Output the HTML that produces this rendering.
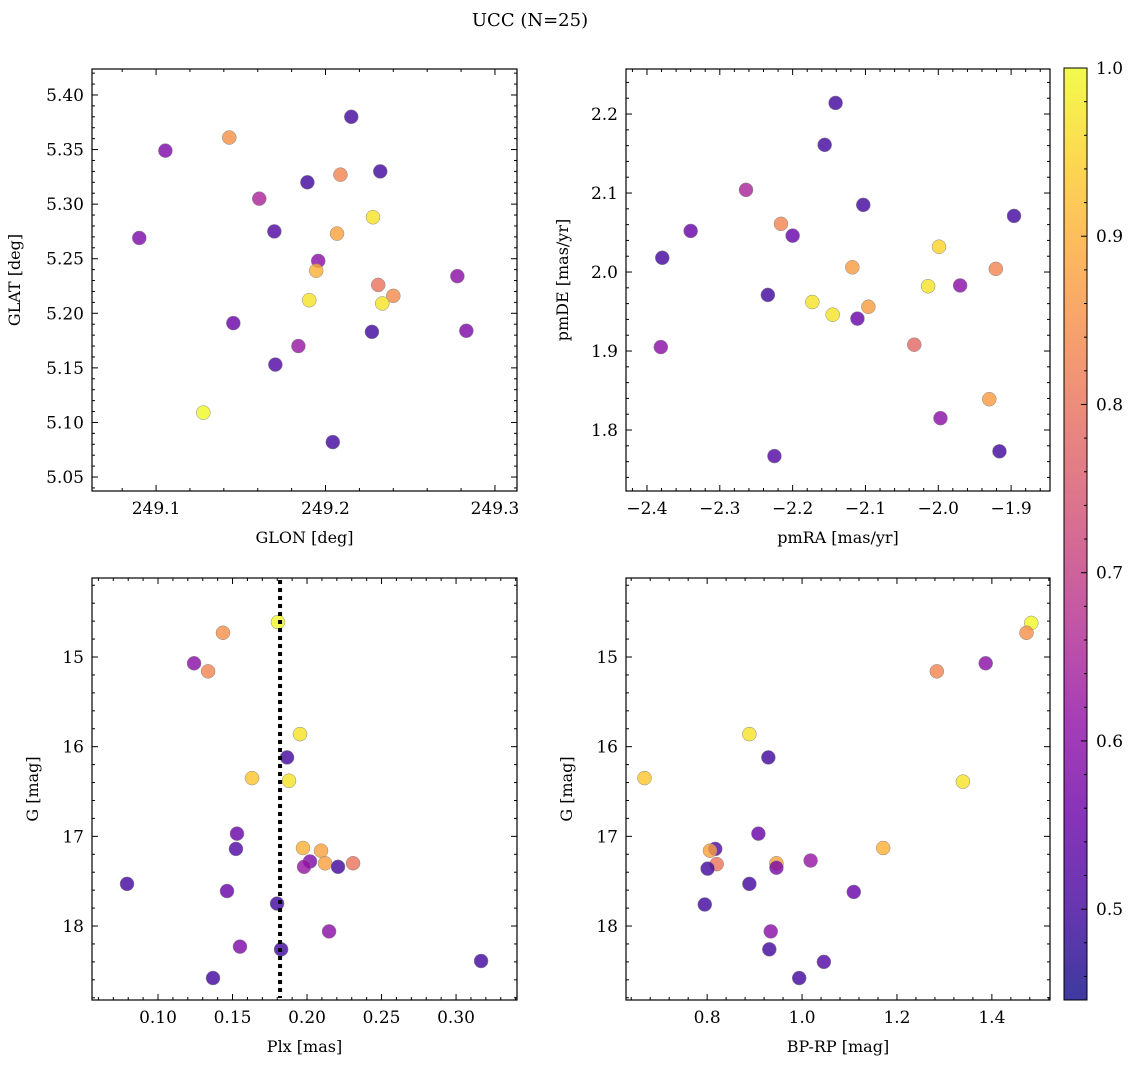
<!DOCTYPE html>
<html><head><meta charset="utf-8">
<style>
body{margin:0;background:#fff;}
svg{display:block;font-family:"DejaVu Serif","Liberation Serif",serif;}
</style></head>
<body>
<svg id="fig" width="1136" height="1068" viewBox="0 0 1136 1068">
<text x="530" y="26" text-anchor="middle" font-size="18">UCC (N=25)</text>
</svg>
<script>
// ---- data ----
const p1Glon=[249.1055,249.1432,249.2152,249.0901,249.1609,249.1893,249.2088,249.2323,249.1698,249.2280,249.2068,249.1957,249.1945,249.2778,249.2311,249.2400,249.1904,249.2335,249.1456,249.2831,249.2274,249.1840,249.1704,249.1279,249.2043];
const p1Glat=[5.349,5.361,5.380,5.269,5.305,5.320,5.327,5.330,5.275,5.288,5.273,5.248,5.239,5.234,5.226,5.216,5.212,5.209,5.191,5.184,5.183,5.170,5.153,5.109,5.082];
const p1C=[0.58,0.85,0.50,0.58,0.65,0.50,0.83,0.50,0.52,0.97,0.88,0.60,0.90,0.60,0.80,0.84,0.97,0.97,0.55,0.58,0.50,0.62,0.52,1.00,0.50];

const p2Pmra=[-2.141,-2.156,-2.264,-2.103,-1.896,-2.216,-2.340,-2.200,-2.379,-1.999,-2.118,-1.921,-2.234,-2.014,-1.970,-2.173,-2.096,-2.145,-2.111,-2.381,-2.033,-1.930,-1.997,-2.225,-1.916];
const p2Pmde=[2.214,2.161,2.104,2.085,2.071,2.061,2.052,2.046,2.018,2.032,2.006,2.004,1.971,1.982,1.983,1.962,1.956,1.946,1.941,1.905,1.908,1.839,1.815,1.767,1.773];
const p2C=[0.50,0.50,0.65,0.50,0.50,0.83,0.55,0.55,0.50,0.95,0.87,0.83,0.50,0.97,0.60,0.97,0.87,0.97,0.55,0.60,0.78,0.87,0.60,0.52,0.50];

const p3Plx=[0.1805,0.1436,0.1242,0.1336,0.1953,0.1866,0.1631,0.1879,0.1530,0.1523,0.1973,0.2094,0.2020,0.1980,0.2121,0.2208,0.2309,0.0792,0.1463,0.1799,0.2148,0.1550,0.1826,0.1369,0.3168];
const p3G=[14.61,14.73,15.07,15.16,15.86,16.12,16.35,16.38,16.97,17.14,17.13,17.16,17.28,17.34,17.30,17.34,17.30,17.53,17.61,17.75,18.06,18.23,18.26,18.58,18.39];
const p3C=[1.00,0.85,0.60,0.83,0.97,0.50,0.93,0.97,0.55,0.52,0.90,0.88,0.58,0.62,0.88,0.50,0.80,0.50,0.55,0.50,0.60,0.58,0.50,0.50,0.50];

const p4Bprp=[1.483,1.473,1.387,1.284,0.889,0.929,0.668,1.339,0.908,0.817,0.806,0.820,0.801,0.946,0.946,1.018,1.171,0.889,1.109,0.795,0.934,0.931,1.046,0.994];
const p4G=[14.62,14.73,15.07,15.16,15.86,16.12,16.35,16.39,16.97,17.14,17.16,17.31,17.36,17.30,17.35,17.27,17.13,17.53,17.62,17.76,18.06,18.26,18.40,18.58];
const p4C=[1.00,0.85,0.60,0.83,0.97,0.50,0.93,0.97,0.55,0.52,0.88,0.80,0.50,0.88,0.58,0.62,0.90,0.50,0.55,0.50,0.60,0.50,0.52,0.50];

const plxLine=0.1819;
const cMin=0.446, cMax=1.0;
const cbTicks=[0.5,0.6,0.7,0.8,0.9,1.0];

// ---- helpers ----
const NS="http://www.w3.org/2000/svg";
const fig=document.getElementById('fig');
function mk(tag,attrs,parent){const e=document.createElementNS(NS,tag);for(const k in attrs)e.setAttribute(k,attrs[k]);(parent||fig).appendChild(e);return e;}
const stops=["#0d0887","#41049d","#6a00a8","#8f0da4","#b12a90","#cc4778","#e16462","#f2844b","#fca636","#fcce25","#f0f921"];
function hx(h){return [parseInt(h.substr(1,2),16),parseInt(h.substr(3,2),16),parseInt(h.substr(5,2),16)];}
function plasma(t){t=Math.max(0,Math.min(1,t));const s=t*10,i=Math.min(9,Math.floor(s)),f=s-i;const a=hx(stops[i]),b=hx(stops[i+1]);return `rgb(${a.map((v,k)=>Math.round(v+(b[k]-v)*f)).join(',')})`;}
function cnorm(c){return (c-cMin)/(cMax-cMin);}
function fmt(v,d){return (v<0?"\u2212":"")+Math.abs(v).toFixed(d);}

function panel(name,box,xr,yr,xMaj,xMin,xd,yMaj,yMin,yd,xlab,ylab,xs,ys,cs,invY,ylOff){
  const [L,T,R,B]=box;
  const g=mk('g',{});
  
  
  const X=v=>L+(v-xr[0])/(xr[1]-xr[0])*(R-L);
  const Y=invY?(v=>T+(v-yr[0])/(yr[1]-yr[0])*(B-T)):(v=>B-(v-yr[0])/(yr[1]-yr[0])*(B-T));
  const eps=1e-9;
  const tg=mk('g',{stroke:'#000','stroke-width':1},g);
  
  
  const lo=Math.min(xr[0],xr[1]),hi=Math.max(xr[0],xr[1]);
  for(let v=Math.ceil(lo/xMin-eps)*xMin;v<=hi+eps;v+=xMin){
    const isMaj=Math.abs(v/xMaj-Math.round(v/xMaj))<1e-6;const len=isMaj?6:3;const x=X(v);
    mk('line',{x1:x,x2:x,y1:B,y2:B-len},tg);mk('line',{x1:x,x2:x,y1:T,y2:T+len},tg);
    if(isMaj){const t=mk('text',{x:x,y:B+23,'text-anchor':'middle','font-size':17,stroke:'none'},g);t.textContent=fmt(v,xd);
      
      }
  }
  const ylo=Math.min(yr[0],yr[1]),yhi=Math.max(yr[0],yr[1]);
  for(let v=Math.ceil(ylo/yMin-eps)*yMin;v<=yhi+eps;v+=yMin){
    const isMaj=Math.abs(v/yMaj-Math.round(v/yMaj))<1e-6;const len=isMaj?6:3;const y=Y(v);
    mk('line',{x1:L,x2:L+len,y1:y,y2:y},tg);mk('line',{x1:R,x2:R-len,y1:y,y2:y},tg);
    if(isMaj){const t=mk('text',{x:L-8,y:y+6,'text-anchor':'end','font-size':17,stroke:'none'},g);t.textContent=fmt(v,yd);
      
      }
  }
  const xl=mk('text',{x:(L+R)/2,y:B+52,'text-anchor':'middle','font-size':16},g);xl.textContent=xlab;
  
  
  const yl=mk('text',{x:0,y:0,'text-anchor':'middle','font-size':16,transform:`translate(${L-ylOff},${(T+B)/2}) rotate(-90)`},g);yl.textContent=ylab;
  
  
  const pts=mk('g',{},g);
  
  
  for(let i=0;i<xs.length;i++){
    const c=mk('circle',{cx:X(xs[i]),cy:Y(ys[i]),r:7,fill:plasma(cnorm(cs[i])),'fill-opacity':0.8,stroke:'#888','stroke-width':0.5},pts);
    
    
  }
  const fr=mk('rect',{x:L,y:T,width:R-L,height:B-T,fill:'none',stroke:'#000','stroke-width':1.2},g);
  
  
  return {X,Y,g};
}

panel('glon-glat-panel',[92,69,517,491],[249.0622,249.313],[5.0372,5.4238],0.1,0.02,1,0.05,0.01,2,'GLON [deg]','GLAT [deg]',p1Glon,p1Glat,p1C,false,72);
panel('pm-panel',[626,69,1050,491],[-2.4288,-1.8466],[1.7228,2.257],0.1,0.02,1,0.1,0.02,1,'pmRA [mas/yr]','pmDE [mas/yr]',p2Pmra,p2Pmde,p2C,false,58);
const p3=panel('plx-g-panel',[92,578,517,1000],[0.0557,0.3409],[14.119,18.825],0.05,0.01,2,1,0.2,0,'Plx [mas]','G [mag]',p3Plx,p3G,p3C,true,54);
const vl=mk('line',{x1:p3.X(plxLine),x2:p3.X(plxLine),y1:580,y2:998,stroke:'#000','stroke-width':4,'stroke-dasharray':'4,4'});


panel('color-g-panel',[626,578,1050,1000],[0.629,1.5225],[14.119,18.825],0.2,0.04,1,1,0.2,0,'BP-RP [mag]','G [mag]',p4Bprp,p4G,p4C,true,54);

// colorbar
const cb=mk('g',{});


const cbL=1064,cbR=1087,cbT=68,cbB=1000;
const defs=mk('defs',{},cb);
const lg=mk('linearGradient',{id:'cbg',x1:0,y1:1,x2:0,y2:0},defs);
for(let i=0;i<=20;i++){mk('stop',{offset:i/20,'stop-color':plasma(i/20),'stop-opacity':0.8},lg);}
mk('rect',{x:cbL,y:cbT,width:cbR-cbL,height:cbB-cbT,fill:'url(#cbg)',stroke:'#000','stroke-width':1},cb);
const CY=v=>cbB-(v-cMin)/(cMax-cMin)*(cbB-cbT);
for(let v=0.46;v<=1.0001;v+=0.02){const y=CY(v);const maj=Math.abs(v*10-Math.round(v*10))<1e-6;mk('line',{x1:cbR,x2:cbR-(maj?6:3),y1:y,y2:y,stroke:'#000'},cb);}
cbTicks.forEach(v=>{const t=mk('text',{x:cbR+9,y:CY(v)+6,'font-size':17},cb);t.textContent=v.toFixed(1);
  
  });
</script>
</body></html>
